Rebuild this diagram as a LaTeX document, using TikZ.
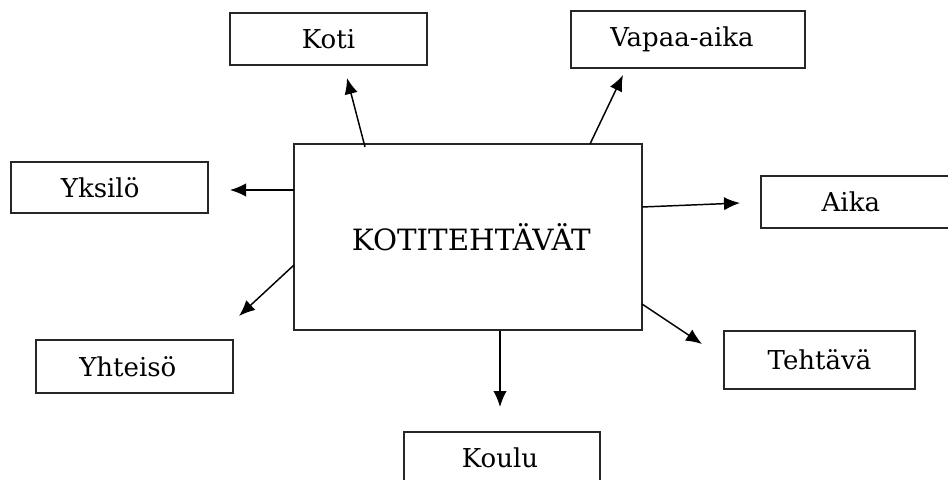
\documentclass[tikz,border=0pt]{standalone}
\usepackage{fontspec}
\setmainfont{DejaVu Serif}
\usetikzlibrary{arrows.meta}
\newcommand{\sh}[2]{\kern-#1pt #2}
\begin{document}
\begin{tikzpicture}[x=0.75pt,y=-0.75pt,
  box/.style={draw=black!85, line width=1.3pt, fill=white, inner sep=0pt, font=\fontsize{19.5}{22}\selectfont},
  arr/.style={line width=1.1pt, -{Latex[length=12pt,width=10pt]}}]
\useasboundingbox (0,0) rectangle (948,479);
\clip (0,0) rectangle (948,479);
\node[box, minimum width=348*0.75pt, minimum height=186*0.75pt, font=\fontsize{22}{26}\selectfont] (c) at (468,237) {\kern5pt KOTITEHTÄVÄT};
\node[box, minimum width=197*0.75pt, minimum height=52*0.75pt] (koti) at (328.5,39) {Koti};
\node[box, minimum width=234*0.75pt, minimum height=57*0.75pt] (vapaa) at (688,39.5) {\sh{9}{Vapaa-aika}};
\node[box, minimum width=197*0.75pt, minimum height=51*0.75pt] (yksilo) at (109.5,187.5) {\sh{14}{Yksilö}};
\node[box, minimum width=197*0.75pt, minimum height=52*0.75pt] (aika) at (859.5,202) {\sh{13}{Aika}};
\node[box, minimum width=197*0.75pt, minimum height=53*0.75pt] (yhteiso) at (134.5,366.5) {\sh{10}{Yhteisö}};
\node[box, minimum width=191*0.75pt, minimum height=58*0.75pt] (tehtava) at (819.5,360) {Tehtävä};
\node[box, minimum width=196*0.75pt, minimum height=52*0.75pt] (koulu) at (502,458) {\sh{3}{Koulu}};
% arrow ends
\coordinate (s1) at (365,147); \coordinate (t1) at (347,78);
\coordinate (s2) at (590,144); \coordinate (t2) at (623,75);
\coordinate (s3) at (294,190); \coordinate (t3) at (230,190);
\coordinate (s4) at (642,207); \coordinate (t4) at (740,203);
\coordinate (s5) at (294,265); \coordinate (t5) at (239,316);
\coordinate (s6) at (642,304); \coordinate (t6) at (702,344);
\coordinate (s7) at (500,331); \coordinate (t7) at (500,407);
\foreach \i in {1,...,7} {\draw[arr] (s\i) -- (t\i);}
\end{tikzpicture}
\end{document}
